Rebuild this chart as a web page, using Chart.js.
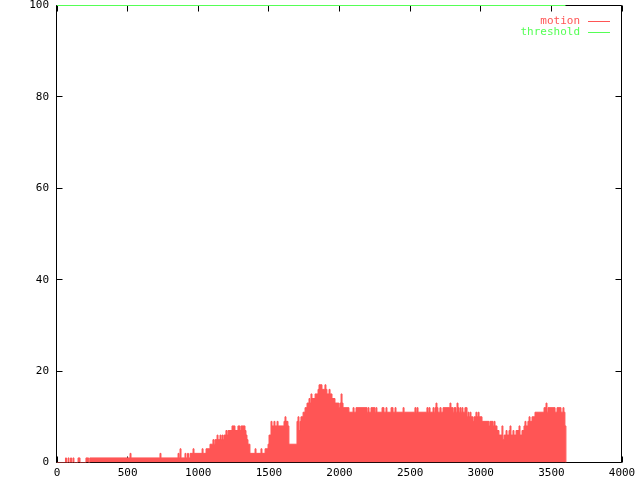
<!DOCTYPE html>
<html><head><meta charset="utf-8">
<script src="https://cdn.jsdelivr.net/npm/chart.js@4/dist/chart.umd.min.js"></script>
<style>html,body{margin:0;padding:0;background:#fff}</style>
</head><body>
<canvas id="c" width="640" height="480"></canvas>
<script>
// time (x) at which each motion level starts; the level holds until the next time
const times = [
  0,
  60,67,78,85,96,103,113,120,149,163,205,224,232,
  517,524,729,736,857,864,871,878,906,913,924,931,942,
  963,970,1027,1034,1055,1083,1104,1112,1119,
  1133,1140,1154,1161,1168,1175,1182,1196,1204,1211,
  1239,1260,1281,1296,1303,1331,1338,1345,1352,1366,
  1402,1409,1444,1451,1473,1494,1501,
  1515,1522,1536,1543,1558,1565,1607,1614,1621,1635,1642,
  1699,1706,1713,1720,1727,1742,1756,1770,1784,1791,1798,1805,
  1827,1848,1855,1876,1897,1904,1911,1926,1933,1947,1968,
  1996,2003,2011,2018,2025,2067,
  2096,2103,2117,2195,2202,2209,2223,2251,2258,2265,
  2301,2315,2329,2336,2365,2379,2393,2400,2450,2457,
  2534,2542,2549,2556,2619,2627,2634,2641,2662,2669,
  2676,2683,2690,2697,2711,2719,2733,2782,2789,2804,
  2811,2825,2832,2839,2846,2853,2860,2867,2874,2888,
  2903,2910,2917,2924,2931,2945,2952,2966,2973,2981,2988,
  3009,3058,3065,3087,3094,3101,3115,3129,
  3150,3157,3165,3179,3186,3200,3207,3214,3228,3235,3250,
  3271,3278,3292,3306,3313,3320,3334,3342,3349,3363,3384,
  3448,3462,3469,3476,3526,3540,3568,3582,3589,3596,3603
];
const motion = [
  0,
  1,0,1,0,1,0,1,0,1,0,1,0,1,
  2,1,2,1,2,1,3,1,2,1,2,1,2,
  3,2,3,2,3,4,5,4,5,
  6,5,6,5,6,5,6,7,6,7,
  8,7,8,7,8,7,6,5,4,2,
  3,2,3,2,3,4,6,
  9,8,9,8,9,8,9,10,9,8,4,
  9,10,7,9,10,11,12,13,14,13,15,14,
  15,16,17,16,17,16,15,16,15,14,13,
  12,13,15,13,12,11,
  12,11,12,11,12,11,12,11,12,11,
  12,11,12,11,12,11,12,11,12,11,
  12,11,12,11,12,11,12,11,12,11,
  12,13,12,11,12,11,12,13,12,11,
  12,11,13,12,11,12,11,12,11,12,
  10,11,10,11,10,9,10,11,10,11,10,
  9,8,9,8,9,8,7,6,
  8,5,6,7,6,7,8,6,7,6,7,
  8,6,7,8,9,8,9,10,9,10,11,
  12,13,11,12,11,12,11,12,11,8,0
];
const thresholdTimes = [0, 3600];
const thresholdValues = [100, 100];
const xTickValues = [0,500,1000,1500,2000,2500,3000,3500,4000];
const yTickValues = [0,20,40,60,80,100];
const seriesNames = ['motion', 'threshold'];
const seriesColors = ['#ff5555', '#55ff55'];

const FONT = {family: "'DejaVu Sans Mono', monospace", size: 11, lineHeight: 1};

const motionPoints = times.map((t, i) => ({x: t, y: motion[i]}));
const thresholdPoints = thresholdTimes.map((t, i) => ({x: t, y: thresholdValues[i]}));

const framePlugin = {
  id: 'frame',
  beforeDatasetsDraw(chart) {
    const ctx = chart.ctx;
    const xs = chart.scales.x, ys = chart.scales.y;
    const L = 56.5, R = 621.5, T = 5.5, B = 462.5;
    ctx.save();
    ctx.strokeStyle = '#000';
    ctx.lineWidth = 1;
    ctx.beginPath();
    ctx.rect(L, T, R - L, B - T);
    yTickValues.forEach(v => {
      const y = Math.round(ys.getPixelForValue(v) - 0.5) + 0.5;
      ctx.moveTo(L, y); ctx.lineTo(L + 6, y);
      ctx.moveTo(R, y); ctx.lineTo(R - 6, y);
    });
    xTickValues.forEach(v => {
      const x = Math.round(xs.getPixelForValue(v) - 0.5) + 0.5;
      ctx.moveTo(x, B); ctx.lineTo(x, B - 6);
      ctx.moveTo(x, T); ctx.lineTo(x, T + 6);
    });
    ctx.stroke();
    ctx.restore();
  },
  afterDraw(chart) {
    const ctx = chart.ctx;
    ctx.save();
    ctx.font = "11px 'DejaVu Sans Mono', monospace";
    ctx.textAlign = 'right';
    ctx.textBaseline = 'middle';
    seriesNames.forEach((name, i) => {
      const y = 21 + i * 11;
      ctx.fillStyle = seriesColors[i];
      ctx.fillText(name, 580, y);
      ctx.strokeStyle = seriesColors[i];
      ctx.lineWidth = 1;
      ctx.beginPath();
      ctx.moveTo(588, y + 0.5); ctx.lineTo(610, y + 0.5);
      ctx.stroke();
    });
    ctx.restore();
  }
};

new Chart(document.getElementById('c'), {
  type: 'line',
  data: {
    datasets: [
      {
        label: seriesNames[0],
        data: motionPoints,
        stepped: true,
        fill: 'origin',
        backgroundColor: seriesColors[0],
        borderColor: seriesColors[0],
        borderWidth: 1,
        pointRadius: 0,
        tension: 0,
        order: 1
      },
      {
        label: seriesNames[1],
        data: thresholdPoints,
        fill: false,
        borderColor: seriesColors[1],
        borderWidth: 1,
        pointRadius: 0,
        clip: 3,
        order: 0
      }
    ]
  },
  options: {
    responsive: false,
    animation: false,
    events: [],
    layout: {padding: {top: 5.5, right: 18, bottom: 0, left: 0}},
    plugins: {legend: {display: false}, tooltip: {enabled: false}},
    scales: {
      x: {
        type: 'linear',
        min: 0, max: 4000,
        grid: {display: false, drawTicks: false},
        border: {display: false},
        afterBuildTicks: s => { s.ticks = xTickValues.map(v => ({value: v})); },
        afterFit: s => { s.height = 17.5; s.paddingLeft = 0; s.paddingRight = 0; },
        ticks: {color: '#000', font: FONT, padding: 5, maxRotation: 0, autoSkip: false,
                callback: v => String(v)}
      },
      y: {
        type: 'linear',
        min: 0, max: 100,
        grid: {display: false, drawTicks: false},
        border: {display: false},
        afterBuildTicks: s => { s.ticks = yTickValues.map(v => ({value: v})); },
        afterFit: s => { s.width = 57; s.paddingTop = 0; s.paddingBottom = 0; },
        ticks: {color: '#000', font: FONT, padding: 8, callback: v => String(v)}
      }
    }
  },
  plugins: [framePlugin]
});
</script>
</body></html>
